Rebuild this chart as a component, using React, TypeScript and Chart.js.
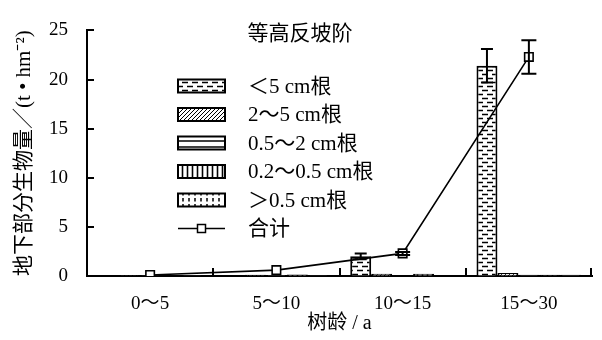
import React, { useEffect, useRef } from "react";
import { Chart, registerables } from "chart.js";

Chart.register(...registerables);

// Tree-age classes and below-ground biomass (t·hm⁻²) by root diameter class
const ageGroups = ["0～5", "5～10", "10～15", "15～30"];
const rootLt5 = [0.03, 0.05, 2.0, 21.4];
const root2to5 = [0.02, 0.12, 0.22, 0.3];
const root05to2 = [0.02, 0.1, 0.03, 0.12];
const root02to05 = [0.03, 0.15, 0.22, 0.12];
const rootGt05 = [0.02, 0.08, 0.03, 0.12];
const totalBiomass = [0.1, 0.6, 2.3, 22.3];
const rootLt5Err = [0, 0, 0.3, 1.7];
const totalErr = [0, 0, 0.15, 1.7];

const seriesLabels = ["＜5 cm根", "2～5 cm根", "0.5～2 cm根", "0.2～0.5 cm根", "＞0.5 cm根", "合计"];
const legendTitle = "等高反坡阶";
const xTitle = "树龄 / a";
const yTitle = "地下部分生物量／(t • hm⁻²)";
const yMin = 0;
const yMax = 25;
const yStep = 5;

const FONT = "'Liberation Serif', 'Times New Roman', 'Noto Sans CJK SC', serif";

function makePattern(w: number, h: number, draw: (c: CanvasRenderingContext2D) => void): CanvasPattern {
  const cv = document.createElement("canvas");
  cv.width = w;
  cv.height = h;
  const c = cv.getContext("2d") as CanvasRenderingContext2D;
  c.fillStyle = "#fff";
  c.fillRect(0, 0, w, h);
  c.strokeStyle = "#000";
  draw(c);
  return c.createPattern(cv, "repeat") as CanvasPattern;
}

function buildPatterns() {
  const dashes = makePattern(10, 8, (c) => {
    c.lineWidth = 1.5;
    c.beginPath();
    c.moveTo(2, 2.5);
    c.lineTo(8, 2.5);
    c.moveTo(7, 6.5);
    c.lineTo(10, 6.5);
    c.moveTo(0, 6.5);
    c.lineTo(3, 6.5);
    c.stroke();
  });
  const hatch = makePattern(4, 4, (c) => {
    c.lineWidth = 1;
    c.beginPath();
    c.moveTo(0, 4);
    c.lineTo(4, 0);
    c.moveTo(-1, 1);
    c.lineTo(1, -1);
    c.moveTo(3, 5);
    c.lineTo(5, 3);
    c.stroke();
  });
  const horizontal = makePattern(4, 6, (c) => {
    c.lineWidth = 1.5;
    c.beginPath();
    c.moveTo(0, 3);
    c.lineTo(4, 3);
    c.stroke();
  });
  const vertical = makePattern(5, 4, (c) => {
    c.lineWidth = 1.6;
    c.beginPath();
    c.moveTo(2.5, 0);
    c.lineTo(2.5, 4);
    c.stroke();
  });
  const ticks = makePattern(6, 6, (c) => {
    c.lineWidth = 1.5;
    c.beginPath();
    c.moveTo(3, 0);
    c.lineTo(3, 3.5);
    c.stroke();
  });
  return [dashes, hatch, horizontal, vertical, ticks];
}

// Inward tick marks on both axes
const innerTicks = {
  id: "innerTicks",
  afterDraw(chart: any) {
    const { ctx, chartArea, scales } = chart;
    const ys = scales.y;
    ctx.save();
    ctx.strokeStyle = "#000";
    ctx.lineWidth = 2;
    ys.ticks.forEach((t: any) => {
      const py = Math.round(ys.getPixelForValue(t.value));
      ctx.beginPath();
      ctx.moveTo(chartArea.left, py);
      ctx.lineTo(chartArea.left + 7, py);
      ctx.stroke();
    });
    const n = ageGroups.length;
    const step = (chartArea.right - chartArea.left) / n;
    for (let i = 1; i <= n; i++) {
      const px = Math.round(chartArea.left + step * i) - (i === n ? 1 : 0);
      ctx.beginPath();
      ctx.moveTo(px, chartArea.bottom);
      ctx.lineTo(px, chartArea.bottom - 8);
      ctx.stroke();
    }
    ctx.restore();
  },
};

// Error bars for the <5 cm bars and the total line
const errorBars = {
  id: "errorBars",
  afterDatasetsDraw(chart: any) {
    const { ctx, scales } = chart;
    const ys = scales.y;
    const draw = (dsIndex: number, values: number[], errs: number[], cap: number) => {
      const meta = chart.getDatasetMeta(dsIndex);
      ctx.save();
      ctx.strokeStyle = "#000";
      ctx.lineWidth = 2;
      values.forEach((v, i) => {
        const e = errs[i];
        if (!e) return;
        const x = meta.data[i].x;
        const top = ys.getPixelForValue(v + e);
        const bot = ys.getPixelForValue(v - e);
        ctx.beginPath();
        ctx.moveTo(x, top);
        ctx.lineTo(x, bot);
        ctx.moveTo(x - cap / 2, top);
        ctx.lineTo(x + cap / 2, top);
        ctx.moveTo(x - cap / 2, bot);
        ctx.lineTo(x + cap / 2, bot);
        ctx.stroke();
      });
      ctx.restore();
    };
    draw(0, rootLt5, rootLt5Err, 12);
    draw(5, totalBiomass, totalErr, 15);
  },
};

// Legend drawn inside the plot area
const insideLegend = {
  id: "insideLegend",
  afterDraw(chart: any) {
    const { ctx, chartArea } = chart;
    const boxX = chartArea.left + 91;
    const boxW = 47;
    const boxH = 13;
    const textX = chartArea.left + 161;
    const firstY = 86;
    const rowGap = 28.5;
    ctx.save();
    ctx.fillStyle = "#000";
    ctx.textBaseline = "middle";
    ctx.textAlign = "center";
    ctx.font = `21px ${FONT}`;
    ctx.fillText(legendTitle, chartArea.left + 213, 34);
    ctx.textAlign = "left";
    chart.data.datasets.forEach((ds: any, i: number) => {
      const cy = firstY + rowGap * i;
      if (ds.type === "line") {
        ctx.strokeStyle = "#000";
        ctx.lineWidth = 1.5;
        ctx.beginPath();
        ctx.moveTo(boxX, cy);
        ctx.lineTo(boxX + boxW, cy);
        ctx.stroke();
        ctx.fillStyle = "#fff";
        ctx.lineWidth = 1.5;
        ctx.fillRect(boxX + boxW / 2 - 4, cy - 4, 8, 8);
        ctx.strokeRect(boxX + boxW / 2 - 4, cy - 4, 8, 8);
      } else {
        ctx.fillStyle = ds.backgroundColor;
        ctx.fillRect(boxX, cy - boxH / 2, boxW, boxH);
        ctx.strokeStyle = "#000";
        ctx.lineWidth = 2;
        ctx.strokeRect(boxX, cy - boxH / 2, boxW, boxH);
      }
      ctx.fillStyle = "#000";
      ctx.fillText(ds.label, textX, cy + 1);
    });
    ctx.restore();
  },
};

export default function App() {
  const ref = useRef<HTMLCanvasElement | null>(null);

  useEffect(() => {
    document.body.style.margin = "0";
    const canvas = ref.current;
    if (!canvas) return;
    const patterns = buildPatterns();
    const barSeries = [rootLt5, root2to5, root05to2, root02to05, rootGt05];
    const barDatasets = barSeries.map((data, i) => ({
      type: "bar" as const,
      label: seriesLabels[i],
      data,
      backgroundColor: patterns[i],
      borderColor: "#000",
      borderWidth: 2,
      categoryPercentage: 0.83,
      barPercentage: 1.0,
      order: 1,
    }));
    const lineDataset = {
      type: "line" as const,
      label: seriesLabels[5],
      data: totalBiomass,
      borderColor: "#000",
      borderWidth: 1.6,
      backgroundColor: "#fff",
      pointStyle: "rect",
      pointRadius: 6,
      pointBorderWidth: 1.6,
      pointBackgroundColor: "#fff",
      pointBorderColor: "#000",
      tension: 0,
      order: 0,
    };

    const chart = new Chart(canvas, {
      type: "bar",
      data: { labels: ageGroups, datasets: [...barDatasets, lineDataset] as any },
      options: {
        animation: false,
        responsive: false,
        maintainAspectRatio: false,
        layout: { padding: { top: 15, right: 10, left: 0, bottom: 0 } },
        plugins: { legend: { display: false }, tooltip: { enabled: false } },
        scales: {
          x: {
            afterFit: (s: any) => {
              s.height = 64;
            },
            grid: { display: true, drawOnChartArea: false, drawTicks: false },
            border: { display: true, color: "#000", width: 2 },
            ticks: { color: "#000", padding: 17, font: { family: FONT, size: 19 } },
            title: {
              display: true,
              text: xTitle,
              color: "#000",
              font: { family: FONT, size: 20 },
              padding: { top: 0, bottom: 4 },
            },
          },
          y: {
            min: yMin,
            max: yMax,
            afterFit: (s: any) => {
              s.width = 87;
            },
            grid: { display: true, drawOnChartArea: false, drawTicks: false },
            border: { display: true, color: "#000", width: 2 },
            ticks: {
              stepSize: yStep,
              color: "#000",
              padding: 19,
              font: { family: FONT, size: 19 },
            },
            title: {
              display: true,
              text: yTitle,
              color: "#000",
              font: { family: FONT, size: 21 },
              padding: { top: 12, bottom: 0 },
            },
          },
        },
      },
      plugins: [innerTicks, errorBars, insideLegend],
    });
    return () => chart.destroy();
  }, []);

  return (
    <div style={{ width: 602, height: 340, background: "#fff" }}>
      <canvas ref={ref} width={602} height={340} />
    </div>
  );
}
